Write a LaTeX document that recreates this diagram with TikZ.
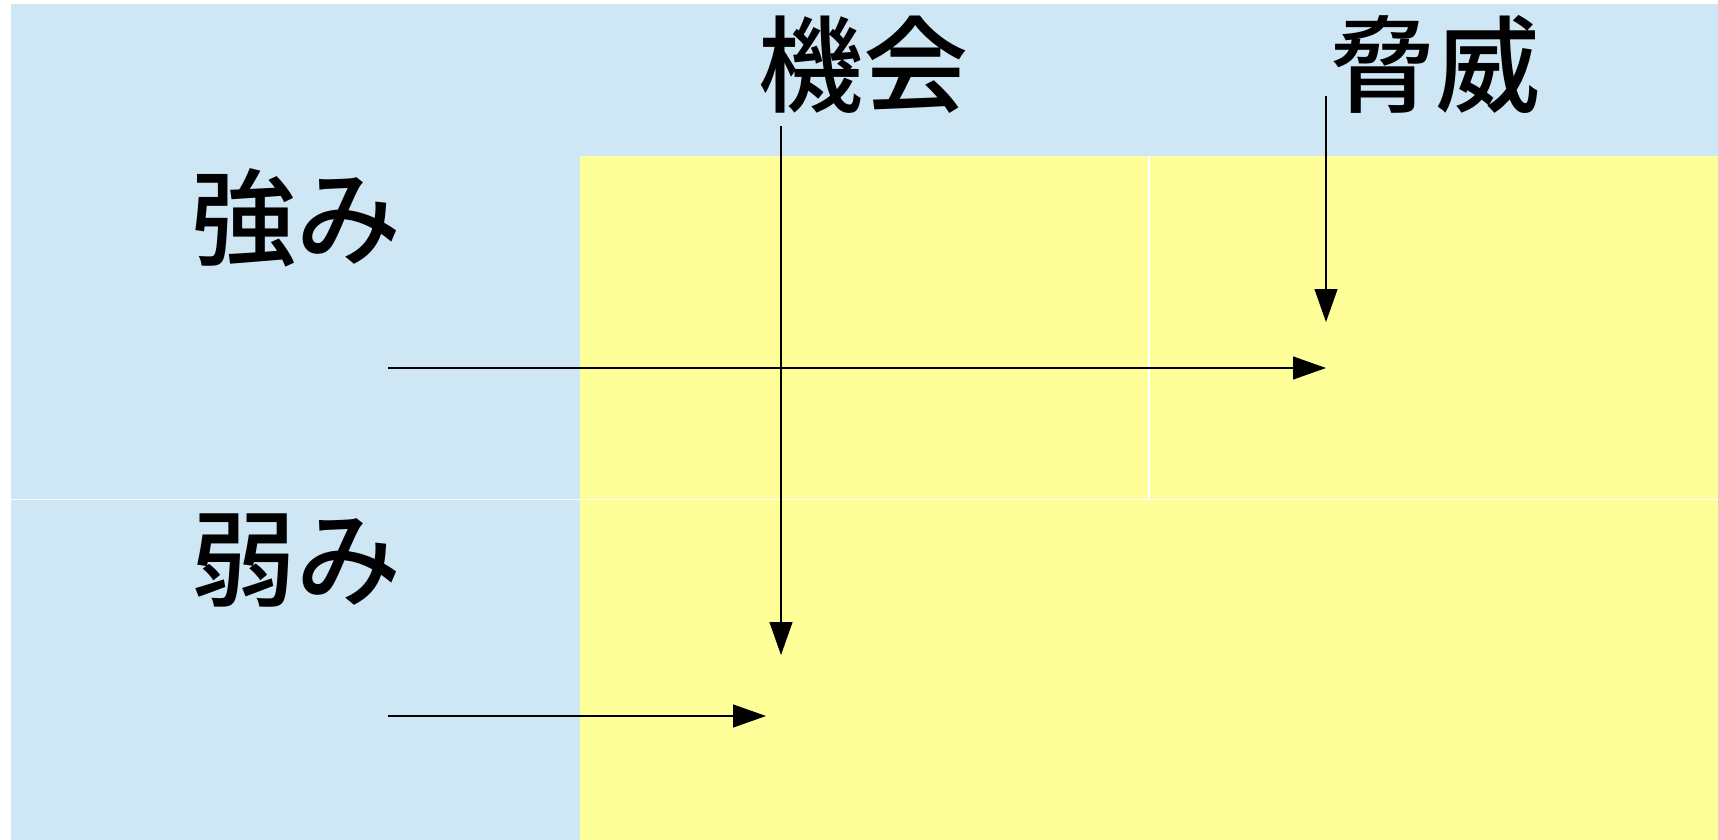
\documentclass[tikz,border=0pt]{standalone}
\usepackage{fontspec}
\newfontfamily\cjk{Noto Sans CJK JP}[UprightFont=* Medium]
\usetikzlibrary{arrows.meta}
\definecolor{hdrblue}{RGB}{207,230,244}
\definecolor{cellyellow}{RGB}{255,255,153}
\begin{document}
\begin{tikzpicture}[x=1pt,y=-1pt,
  cellbox/.style={rectangle, fill=#1, draw=none, inner sep=0pt, outer sep=0pt, anchor=north west},
  sepline/.style={white, line width=1.3pt},
  lbl/.style={font=\cjk\fontsize{105}{112}\selectfont, inner sep=0pt, anchor=center},
  conn/.style={line width=1.1pt, -{Triangle[length=33pt,width=23pt]}}]
\fill[white] (0,0) rectangle (1718,840);
\useasboundingbox (0,0) rectangle (1718,840);
% cells
\node[cellbox=hdrblue, minimum width=1707pt, minimum height=151.2pt] (header) at (11,4.4) {};
\node[cellbox=hdrblue, minimum width=569pt, minimum height=684.4pt] (leftcol) at (11,155.6) {};
\node[cellbox=cellyellow, minimum width=1138pt, minimum height=684.4pt] (body) at (580,155.6) {};
% separators
\coordinate (rowL) at (11,499.6);
\coordinate (rowR) at (1718,499.6);
\coordinate (colT) at (1149,155.6);
\coordinate (colB) at (1149,499.6);
\draw[sepline] (rowL) -- (rowR);
\draw[sepline] (colT) -- (colB);
% labels
\node[lbl] (opp) at (863,65) {機会};
\node[lbl] (thr) at (1435,64) {脅威};
\node[lbl] (str) at (296,218) {強み};
\node[lbl] (wea) at (296,561) {弱み};
% arrow end points
\coordinate (a1s) at (781,126);
\coordinate (a1e) at (781,655);
\coordinate (a2s) at (1326,96);
\coordinate (a2e) at (1326,322);
\coordinate (a3s) at (388,368);
\coordinate (a3e) at (1326,368);
\coordinate (a4s) at (388,716);
\coordinate (a4e) at (766,716);
\draw[conn] (a1s) -- (a1e);
\draw[conn] (a2s) -- (a2e);
\draw[conn] (a3s) -- (a3e);
\draw[conn] (a4s) -- (a4e);
\end{tikzpicture}
\end{document}
